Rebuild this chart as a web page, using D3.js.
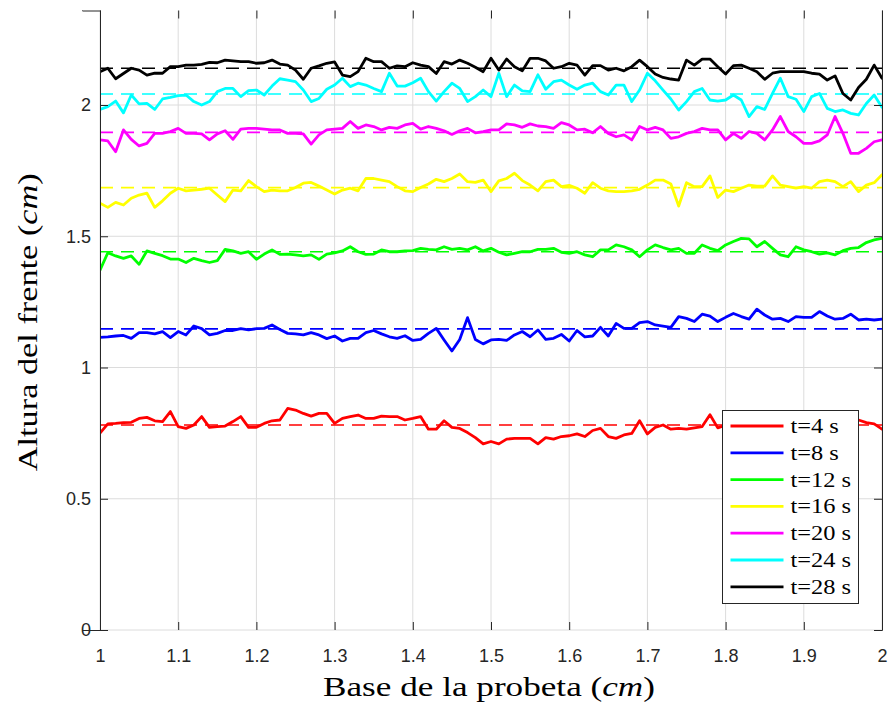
<!DOCTYPE html>
<html><head><meta charset="utf-8">
<script src="https://cdn.jsdelivr.net/npm/d3@7"></script>
<style>body{margin:0;background:#fff}</style>
</head><body>
<svg id="c" width="892" height="709"></svg>
<script>
// ---- data ----
const xValues = d3.range(0, 101).map(i => 1 + i / 100);
const xTicks = [1, 1.1, 1.2, 1.3, 1.4, 1.5, 1.6, 1.7, 1.8, 1.9, 2];
const yTicks = [0, 0.5, 1, 1.5, 2];
const seriesNames = ["t=4 s", "t=8 s", "t=12 s", "t=16 s", "t=20 s", "t=24 s", "t=28 s"];
const seriesColors = ["#ff0000", "#0000ff", "#00ff00", "#ffff00", "#ff00ff", "#00ffff", "#000000"];
const meanValues = [0.781, 1.147, 1.441, 1.685, 1.896, 2.042, 2.140];

const t4 = [0.75,0.785,0.787,0.79,0.791,0.806,0.81,0.797,0.794,0.832,
 0.775,0.768,0.781,0.813,0.772,0.775,0.777,0.794,0.813,0.772,
 0.772,0.787,0.797,0.8,0.844,0.838,0.825,0.815,0.825,0.825,
 0.787,0.806,0.813,0.819,0.806,0.806,0.815,0.813,0.813,0.8,
 0.806,0.813,0.765,0.765,0.797,0.772,0.768,0.752,0.733,0.709,
 0.718,0.709,0.727,0.73,0.73,0.73,0.709,0.733,0.727,0.737,
 0.74,0.747,0.737,0.76,0.768,0.737,0.73,0.743,0.749,0.797,
 0.747,0.772,0.781,0.765,0.768,0.765,0.77,0.775,0.82,0.77,
 0.78,0.785,0.79,0.78,0.785,0.79,0.795,0.785,0.78,0.79,
 0.795,0.79,0.785,0.795,0.8,0.79,0.795,0.8,0.79,0.785,0.765];
const t8 = [1.115,1.117,1.12,1.122,1.111,1.133,1.133,1.128,1.137,1.114,
 1.137,1.124,1.158,1.148,1.124,1.13,1.141,1.141,1.148,1.143,
 1.148,1.149,1.162,1.145,1.13,1.128,1.124,1.133,1.124,1.11,
 1.12,1.101,1.111,1.111,1.133,1.141,1.128,1.117,1.111,1.121,
 1.103,1.107,1.13,1.149,1.105,1.063,1.107,1.19,1.107,1.09,
 1.105,1.107,1.103,1.124,1.137,1.117,1.143,1.107,1.111,1.126,
 1.101,1.141,1.117,1.12,1.153,1.12,1.168,1.149,1.149,1.171,
 1.175,1.162,1.158,1.153,1.194,1.187,1.175,1.203,1.196,1.175,
 1.191,1.206,1.194,1.184,1.222,1.2,1.184,1.187,1.175,1.194,
 1.191,1.191,1.213,1.196,1.184,1.187,1.203,1.181,1.184,1.181,1.184];
const t12 = [1.371,1.437,1.425,1.416,1.425,1.393,1.444,1.435,1.426,1.413,
 1.413,1.4,1.416,1.407,1.4,1.407,1.45,1.444,1.435,1.441,
 1.412,1.432,1.448,1.431,1.432,1.429,1.425,1.429,1.412,1.432,
 1.437,1.444,1.46,1.441,1.431,1.432,1.448,1.441,1.441,1.444,
 1.445,1.454,1.45,1.448,1.46,1.45,1.454,1.448,1.46,1.444,
 1.454,1.439,1.429,1.435,1.441,1.441,1.45,1.45,1.454,1.439,
 1.435,1.441,1.429,1.422,1.448,1.448,1.467,1.46,1.448,1.422,
 1.448,1.467,1.457,1.448,1.454,1.435,1.435,1.467,1.454,1.445,
 1.467,1.48,1.492,1.49,1.46,1.48,1.454,1.429,1.422,1.46,
 1.448,1.441,1.432,1.437,1.429,1.445,1.454,1.457,1.476,1.486,1.492];
const t16 = [1.626,1.61,1.629,1.619,1.645,1.657,1.664,1.61,1.635,1.664,
 1.683,1.673,1.676,1.679,1.683,1.657,1.632,1.676,1.673,1.712,
 1.689,1.67,1.676,1.673,1.673,1.686,1.702,1.705,1.691,1.676,
 1.661,1.676,1.683,1.673,1.72,1.72,1.714,1.708,1.689,1.673,
 1.67,1.686,1.699,1.717,1.708,1.72,1.737,1.708,1.705,1.714,
 1.67,1.711,1.72,1.74,1.712,1.695,1.673,1.708,1.714,1.689,
 1.694,1.683,1.664,1.704,1.683,1.673,1.67,1.67,1.673,1.679,
 1.695,1.714,1.714,1.699,1.615,1.704,1.689,1.689,1.73,1.648,
 1.676,1.67,1.683,1.695,1.691,1.691,1.73,1.695,1.689,1.683,
 1.689,1.683,1.708,1.714,1.708,1.689,1.708,1.67,1.695,1.704,1.734];
const t20 = [1.867,1.863,1.822,1.905,1.869,1.844,1.854,1.892,1.892,1.899,
 1.911,1.892,1.892,1.89,1.867,1.89,1.902,1.869,1.908,1.911,
 1.911,1.908,1.905,1.905,1.892,1.892,1.89,1.851,1.886,1.905,
 1.908,1.911,1.937,1.911,1.924,1.918,1.905,1.915,1.911,1.924,
 1.93,1.908,1.918,1.911,1.902,1.888,1.902,1.911,1.894,1.899,
 1.905,1.905,1.928,1.924,1.915,1.928,1.92,1.918,1.911,1.933,
 1.924,1.905,1.908,1.894,1.918,1.892,1.879,1.886,1.867,1.918,
 1.905,1.915,1.905,1.873,1.879,1.892,1.899,1.911,1.905,1.905,
 1.867,1.892,1.873,1.899,1.892,1.867,1.905,1.956,1.899,1.879,
 1.854,1.854,1.863,1.886,1.956,1.892,1.816,1.816,1.835,1.86,1.867];
const t24 = [1.983,1.994,2.015,1.97,2.038,2.004,2.006,1.983,2.023,2.029,
 2.036,2.038,2.013,2.0,2.013,2.051,2.063,2.063,2.032,2.055,
 2.057,2.038,2.072,2.1,2.095,2.089,2.057,2.013,2.025,2.06,
 2.076,2.102,2.07,2.083,2.076,2.063,2.051,2.121,2.072,2.072,
 2.085,2.102,2.051,2.015,2.051,2.083,2.063,2.013,2.032,2.057,
 2.032,2.121,2.032,2.076,2.054,2.051,2.115,2.06,2.089,2.095,
 2.076,2.06,2.076,2.083,2.051,2.038,2.076,2.076,2.013,2.057,
 2.121,2.092,2.057,2.023,1.981,2.013,2.051,2.063,2.019,2.015,
 2.019,2.038,2.019,1.956,1.994,1.983,2.044,2.102,2.032,2.022,
 1.975,2.032,2.044,1.987,1.975,1.981,1.968,1.962,2.006,2.038,1.991];
const t28 = [2.127,2.14,2.1,2.12,2.14,2.133,2.114,2.121,2.121,2.146,
 2.146,2.152,2.152,2.155,2.162,2.161,2.171,2.168,2.165,2.165,
 2.159,2.161,2.171,2.156,2.152,2.133,2.098,2.14,2.149,2.159,
 2.164,2.114,2.108,2.127,2.178,2.165,2.165,2.14,2.149,2.146,
 2.161,2.152,2.146,2.12,2.165,2.156,2.171,2.159,2.144,2.127,
 2.178,2.133,2.175,2.146,2.13,2.178,2.178,2.168,2.14,2.146,
 2.159,2.152,2.114,2.15,2.15,2.133,2.14,2.13,2.146,2.171,
 2.146,2.118,2.105,2.099,2.095,2.171,2.152,2.175,2.175,2.146,
 2.118,2.15,2.152,2.14,2.127,2.098,2.121,2.127,2.127,2.127,
 2.127,2.121,2.118,2.095,2.111,2.044,2.019,2.067,2.098,2.152,2.102];
const seriesValues = [t4, t8, t12, t16, t20, t24, t28];

// ---- layout ----
const svg = d3.select("#c");
const L = 100, R = 882, T = 10.5, B = 630;
const x = d3.scaleLinear().domain([1, 2]).range([L, R]);
const y = d3.scaleLinear().domain([0, 2.36]).range([B, T]);
const axisColor = "#262626";
const tickFont = "'Liberation Sans', Arial, Helvetica, sans-serif";
const serifFont = "'Liberation Serif', 'DejaVu Serif', serif";

svg.append("defs").append("clipPath").attr("id", "clip")
  .append("rect").attr("x", L).attr("y", T).attr("width", R - L).attr("height", B - T);

// grid
const grid = svg.append("g");
grid.selectAll(".gx").data(xTicks).join("line")
  .attr("x1", d => x(d)).attr("x2", d => x(d)).attr("y1", T).attr("y2", B)
  .attr("stroke", "#dcdcdc").attr("stroke-width", 1);
grid.selectAll(".gy").data(yTicks).join("line")
  .attr("y1", d => y(d)).attr("y2", d => y(d)).attr("x1", L).attr("x2", R)
  .attr("stroke", "#dcdcdc").attr("stroke-width", 1);

// series
const plot = svg.append("g").attr("clip-path", "url(#clip)");
const line = d3.line().x((d, i) => x(xValues[i])).y(d => y(d));
seriesValues.forEach((vals, s) => {
  plot.append("path").datum(vals).attr("d", line)
    .attr("fill", "none").attr("stroke", seriesColors[s]).attr("stroke-width", 2.8)
    .attr("stroke-linejoin", "round").attr("stroke-linecap", "round");
  plot.append("line")
    .attr("x1", x(1)).attr("x2", x(2)).attr("y1", y(meanValues[s])).attr("y2", y(meanValues[s]))
    .attr("stroke", seriesColors[s]).attr("stroke-width", 1.7).attr("stroke-dasharray", "13,8");
});

// axes (ticks inward, box)
const axB = d3.axisBottom(x).tickValues(xTicks).tickSize(-8).tickPadding(19).tickFormat(d3.format("~g"));
const axT = d3.axisTop(x).tickValues(xTicks).tickSize(-8).tickFormat("");
const axLft = d3.axisLeft(y).tickValues(yTicks).tickSize(-8).tickPadding(9).tickFormat(d3.format("~g"));
const axRt = d3.axisRight(y).tickValues(yTicks).tickSize(-8).tickFormat("");
function style(g) {
  g.select(".domain").attr("stroke", axisColor).attr("stroke-width", 1);
  g.selectAll(".tick line").attr("stroke", axisColor);
  g.selectAll(".tick text").attr("fill", "#262626").style("font-family", tickFont).style("font-size", "18px");
}
svg.append("g").attr("transform", `translate(0,${B})`).call(axB).call(style);
svg.append("g").attr("transform", `translate(0,${T})`).call(axT).call(style);
svg.append("g").attr("transform", `translate(${L},0)`).call(axLft).call(style);
svg.append("g").attr("transform", `translate(${R},0)`).call(axRt).call(style);
svg.selectAll(".domain").attr("d", function () { return d3.select(this).attr("d").replace(/V-?8/g, "V0").replace(/H-?8/g, "H0"); });

// widen serif text to mimic Computer Modern proportions
function widen(sel, f) {
  const w = sel.node().getComputedTextLength();
  sel.attr("textLength", w * f).attr("lengthAdjust", "spacingAndGlyphs");
}

// axis labels
const xl = svg.append("text").attr("x", (L + R) / 2 - 2).attr("y", 696).attr("text-anchor", "middle")
  .style("font-family", serifFont).style("font-size", "28px").attr("fill", "#000");
xl.append("tspan").text("Base de la probeta (");
xl.append("tspan").text("cm").style("font-style", "italic");
xl.append("tspan").text(")");
xl.attr("textLength", 332).attr("lengthAdjust", "spacingAndGlyphs");
const yl = svg.append("text").attr("transform", `translate(37,${(T + B) / 2 + 2}) rotate(-90)`).attr("text-anchor", "middle")
  .style("font-family", serifFont).style("font-size", "28px").attr("fill", "#000");
yl.append("tspan").text("Altura del frente (");
yl.append("tspan").text("cm").style("font-style", "italic");
yl.append("tspan").text(")");
yl.attr("textLength", 298).attr("lengthAdjust", "spacingAndGlyphs");

// legend
const lg = svg.append("g").attr("transform", "translate(722.5,410.5)");
lg.append("rect").attr("width", 136).attr("height", 193).attr("fill", "#fff").attr("stroke", axisColor).attr("stroke-width", 1);
seriesNames.forEach((n, i) => {
  const yy = 15.5 + i * 26.8;
  lg.append("line").attr("x1", 8).attr("x2", 61).attr("y1", yy).attr("y2", yy)
    .attr("stroke", seriesColors[i]).attr("stroke-width", 2.8);
  const t = lg.append("text").attr("x", 68).attr("y", yy + 7).text(n)
    .style("font-family", serifFont).style("font-size", "20px").attr("fill", "#000");
  widen(t, 1.22);
});
</script>
</body></html>
